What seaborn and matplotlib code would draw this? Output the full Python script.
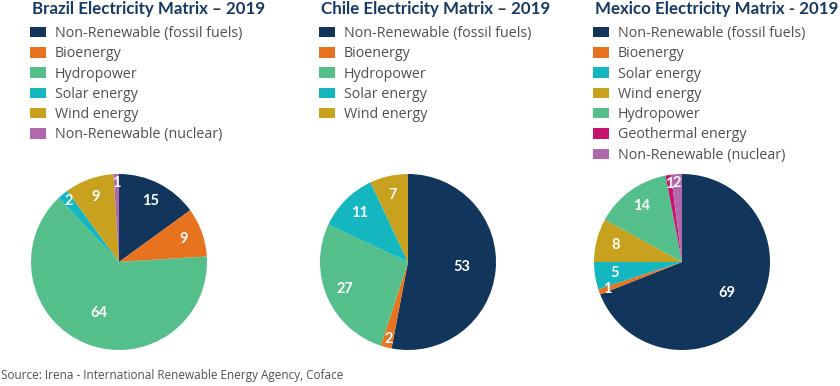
import numpy as np
import matplotlib
matplotlib.use("Agg")
import matplotlib.pyplot as plt
import seaborn as sns

sns.set_theme(style="white")
plt.rcParams["font.family"] = ["Open Sans", "DejaVu Sans"]

# ----------------------------------------------------------------------
# Data (percent of electricity generation, 2019)
# ----------------------------------------------------------------------
brazil_labels = ["Non-Renewable (fossil fuels)", "Bioenergy", "Hydropower",
                 "Solar energy", "Wind energy", "Non-Renewable (nuclear)"]
brazil_values = [15, 9, 64, 2, 9, 1]

chile_labels = ["Non-Renewable (fossil fuels)", "Bioenergy", "Hydropower",
                "Solar energy", "Wind energy"]
chile_values = [53, 2, 27, 11, 7]

mexico_labels = ["Non-Renewable (fossil fuels)", "Bioenergy", "Solar energy",
                 "Wind energy", "Hydropower", "Geothermal energy",
                 "Non-Renewable (nuclear)"]
mexico_values = [69, 1, 5, 8, 14, 1, 2]

titles = ["Brazil Electricity Matrix \u2013 2019",
          "Chile Electricity Matrix \u2013 2019",
          "Mexico Electricity Matrix - 2019"]
source = "Source: Irena - International Renewable Energy Agency, Coface"

COLORS = {
    "Non-Renewable (fossil fuels)": "#12355B",
    "Bioenergy": "#E8731E",
    "Hydropower": "#55BF8B",
    "Solar energy": "#14B6BF",
    "Wind energy": "#C8A21E",
    "Non-Renewable (nuclear)": "#B168AC",
    "Geothermal energy": "#C6136F",
}
NAVY = "#163A63"
GREY = "#505050"

W, H = 840, 386
fig = plt.figure(figsize=(W / 100, H / 100), dpi=100)

panels = [
    (brazil_labels, brazil_values, 31, 32),
    (chile_labels, chile_values, 320, 321),
    (mexico_labels, mexico_values, 594, 595),
]

for (labels, values, pie_left, text_left), title in zip(panels, titles):
    ax = fig.add_axes([pie_left / W, 36 / H, 176 / W, 176 / H])
    wedges, _ = ax.pie(values, colors=[COLORS[l] for l in labels],
                       startangle=90, counterclock=False, radius=1,
                       wedgeprops=dict(linewidth=0))
    # value labels inside the wedges, small slices pushed to the rim
    for w, v in zip(wedges, values):
        ang = np.deg2rad((w.theta1 + w.theta2) / 2)
        r = 0.9 if v <= 2 else (0.62 if v > 50 else 0.78)
        ax.text(r * np.cos(ang), r * np.sin(ang), str(v), ha="center",
                va="center", color="white", fontsize=10.5, fontweight="bold",
                family=["Lato", "DejaVu Sans"])
    ax.set_xlim(-1, 1)
    ax.set_ylim(-1, 1)
    ax.set_aspect("equal")
    ax.axis("off")

    fig.text(text_left / W, 1 - 9 / H, title, ha="left", va="center",
             fontsize=12.2, fontweight="bold", color=NAVY,
             family=["Lato", "DejaVu Sans"])
    fig.legend(wedges, labels, loc="upper left",
               bbox_to_anchor=(text_left / W - 0.002, 1 - 26 / H),
               frameon=False, fontsize=10.3, labelcolor=GREY,
               handlelength=1.1, handleheight=0.75, handletextpad=0.6,
               labelspacing=0.37, borderpad=0, borderaxespad=0)

fig.text(1 / W, 10 / H, source, ha="left", va="center", fontsize=8.5,
         color=GREY)

fig.savefig("out.png", dpi=100)
